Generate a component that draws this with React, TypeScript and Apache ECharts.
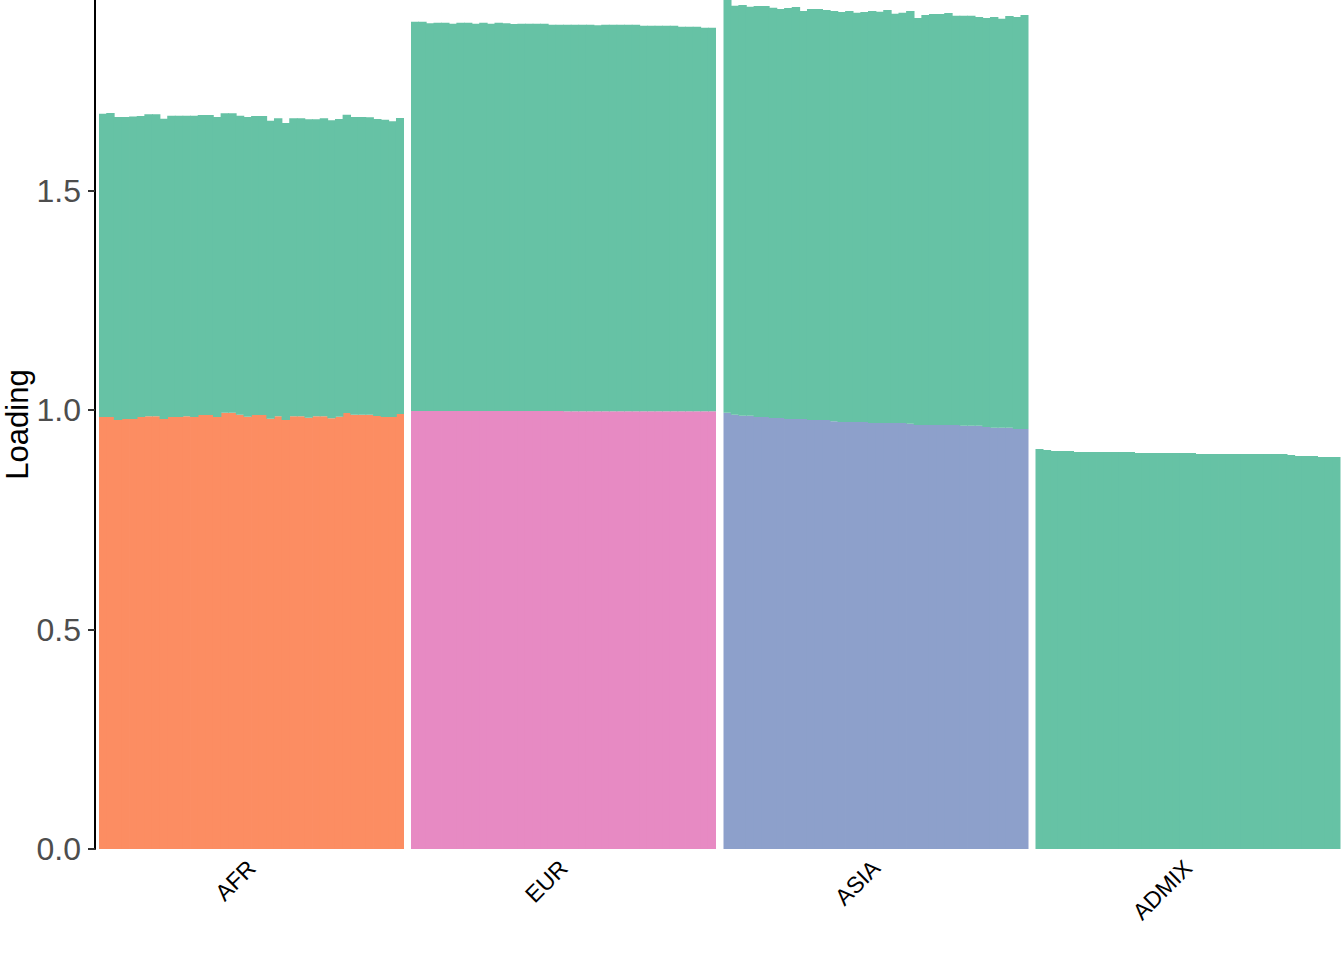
import React, { useEffect, useRef } from "react";
import * as echarts from "echarts";

// ---- data ----
const groups = ["AFR", "EUR", "ASIA", "ADMIX"];
const individuals = Array.from({ length: 40 }, (_, i) => `ind${i + 1}`);
const yTicks = [0, 0.5, 1.0, 1.5];
const yMax = 1.934;

// AFR: own ancestry (orange) + shared component (green)
const afrOwn = [0.9841, 0.9841, 0.9772, 0.9795, 0.9795, 0.9841, 0.9856, 0.9856, 0.9795, 0.9841, 0.9841, 0.9856, 0.9841, 0.9886, 0.9886, 0.9841, 0.9939, 0.9939, 0.9894, 0.9848, 0.9886, 0.9886, 0.9803, 0.9856, 0.9772, 0.9856, 0.9856, 0.9825, 0.9856, 0.9856, 0.981, 0.9848, 0.9932, 0.9894, 0.9894, 0.9894, 0.9863, 0.9841, 0.9841, 0.9909];
const afrShared = [0.6909, 0.6924, 0.6902, 0.6879, 0.6894, 0.6856, 0.6879, 0.6879, 0.6841, 0.6864, 0.6864, 0.6849, 0.6864, 0.6834, 0.6834, 0.6833, 0.6819, 0.6819, 0.6811, 0.6826, 0.6811, 0.6811, 0.6788, 0.6788, 0.6766, 0.6788, 0.6788, 0.6796, 0.6765, 0.6788, 0.6788, 0.6781, 0.6796, 0.678, 0.678, 0.6773, 0.6766, 0.6772, 0.6735, 0.6742];

// EUR: own ancestry (pink) + shared (green)
const eurOwn = [0.998, 0.998, 0.998, 0.998, 0.998, 0.998, 0.998, 0.998, 0.998, 0.998, 0.998, 0.998, 0.998, 0.998, 0.998, 0.998, 0.998, 0.998, 0.998, 0.998, 0.997, 0.997, 0.997, 0.997, 0.997, 0.997, 0.997, 0.997, 0.997, 0.997, 0.997, 0.997, 0.997, 0.997, 0.997, 0.997, 0.997, 0.997, 0.997, 0.997];
const eurShared = [0.8866, 0.8866, 0.8828, 0.8843, 0.8843, 0.882, 0.8843, 0.8843, 0.882, 0.8843, 0.882, 0.8843, 0.8828, 0.8813, 0.882, 0.882, 0.882, 0.882, 0.8797, 0.8797, 0.8807, 0.8807, 0.8807, 0.8807, 0.8792, 0.8807, 0.8807, 0.8807, 0.8807, 0.8807, 0.8785, 0.8785, 0.8785, 0.8785, 0.8785, 0.8762, 0.8762, 0.8762, 0.8739, 0.8739];

// ASIA: own ancestry (blue) + shared (green)
const asiaOwn = [0.9939, 0.9894, 0.9871, 0.9871, 0.9841, 0.9841, 0.9818, 0.9818, 0.9795, 0.9795, 0.9795, 0.9772, 0.9772, 0.9772, 0.9742, 0.9727, 0.9727, 0.9727, 0.9727, 0.9704, 0.9704, 0.9704, 0.9704, 0.9704, 0.9689, 0.9658, 0.9658, 0.9658, 0.9658, 0.9658, 0.9658, 0.9643, 0.9643, 0.9643, 0.9613, 0.9598, 0.9598, 0.9598, 0.9567, 0.9567];
const asiaShared = [0.94, 0.9316, 0.9355, 0.9317, 0.9362, 0.9362, 0.9347, 0.9316, 0.9362, 0.9385, 0.9294, 0.9362, 0.9362, 0.934, 0.9347, 0.9339, 0.9362, 0.9324, 0.9339, 0.9385, 0.937, 0.9408, 0.9324, 0.9347, 0.94, 0.9271, 0.934, 0.9363, 0.9363, 0.9385, 0.9325, 0.934, 0.934, 0.9309, 0.9316, 0.9354, 0.9316, 0.9377, 0.9385, 0.9431];

// ADMIX: shared only (green)
const admixShared = [0.9112, 0.9089, 0.9066, 0.9066, 0.9066, 0.9043, 0.9043, 0.9043, 0.9043, 0.9043, 0.9043, 0.9043, 0.9043, 0.9021, 0.9021, 0.9021, 0.9021, 0.9021, 0.9021, 0.9021, 0.9021, 0.8998, 0.8998, 0.8998, 0.8998, 0.8998, 0.8998, 0.8998, 0.8998, 0.8998, 0.8998, 0.8998, 0.8998, 0.8975, 0.8952, 0.8952, 0.8952, 0.8929, 0.8929, 0.8929];

const GREEN = "#66C2A5";
const ownColors = ["#FC8D62", "#E78AC3", "#8DA0CB", null];
const ownData = [afrOwn, eurOwn, asiaOwn, null];
const sharedData = [afrShared, eurShared, asiaShared, admixShared];

const FONT = "'Liberation Sans', Arial, Helvetica, sans-serif";

export default function App() {
  const ref = useRef<HTMLDivElement>(null);

  useEffect(() => {
    if (!ref.current) return;
    const chart = echarts.init(ref.current, undefined, { renderer: "svg" });

    const lefts = [99, 411, 723.5, 1035.5];
    const width = 305;
    const grids = lefts.map((l) => ({
      left: l,
      width,
      top: 0,
      bottom: 111,
      containLabel: false,
      outerBoundsMode: "none",
    }));

    const xAxes: any[] = [];
    const yAxes: any[] = [];
    const series: any[] = [];

    groups.forEach((g, gi) => {
      xAxes.push({
        type: "category",
        gridIndex: gi,
        data: individuals,
        show: false,
      });
      xAxes.push({
        type: "category",
        gridIndex: gi,
        data: [g],
        position: "bottom",
        axisLine: { show: false },
        axisTick: { show: false },
        axisLabel: {
          rotate: 45,
          fontSize: 23,
          color: "#000",
          fontFamily: FONT,
          margin: 15,
        },
      });
      yAxes.push(
        gi === 0
          ? {
              type: "value",
              gridIndex: gi,
              min: 0,
              max: yMax,
              offset: 4,
              name: "Loading",
              nameLocation: "middle",
              nameGap: 62,
              nameTextStyle: { fontSize: 31, color: "#000", fontFamily: FONT },
              axisLine: { show: true, lineStyle: { color: "#000", width: 2 } },
              axisTick: {
                show: true,
                length: 7,
                customValues: yTicks,
                lineStyle: { color: "#333", width: 2 },
              },
              axisLabel: {
                customValues: yTicks,
                formatter: (v: number) => v.toFixed(1),
                fontSize: 32,
                color: "#4D4D4D",
                fontFamily: FONT,
                margin: 14,
              },
              splitLine: { show: false },
            }
          : {
              type: "value",
              gridIndex: gi,
              min: 0,
              max: yMax,
              show: false,
              splitLine: { show: false },
            }
      );

      const own = ownData[gi];
      if (own) {
        series.push({
          type: "bar",
          name: `${g} own`,
          xAxisIndex: gi * 2,
          yAxisIndex: gi,
          stack: `s${gi}`,
          data: own,
          barWidth: 8.4,
          itemStyle: { color: ownColors[gi] },
        });
      }
      series.push({
        type: "bar",
        name: `${g} shared`,
        xAxisIndex: gi * 2,
        yAxisIndex: gi,
        stack: `s${gi}`,
        data: sharedData[gi],
        barWidth: 8.4,
        itemStyle: { color: GREEN },
      });
    });

    chart.setOption({
      animation: false,
      backgroundColor: "#fff",
      grid: grids,
      xAxis: xAxes,
      yAxis: yAxes,
      series,
    });

    return () => chart.dispose();
  }, []);

  return (
    <div
      ref={ref}
      style={{ position: "absolute", left: 0, top: 0, width: 1344, height: 960 }}
    />
  );
}
